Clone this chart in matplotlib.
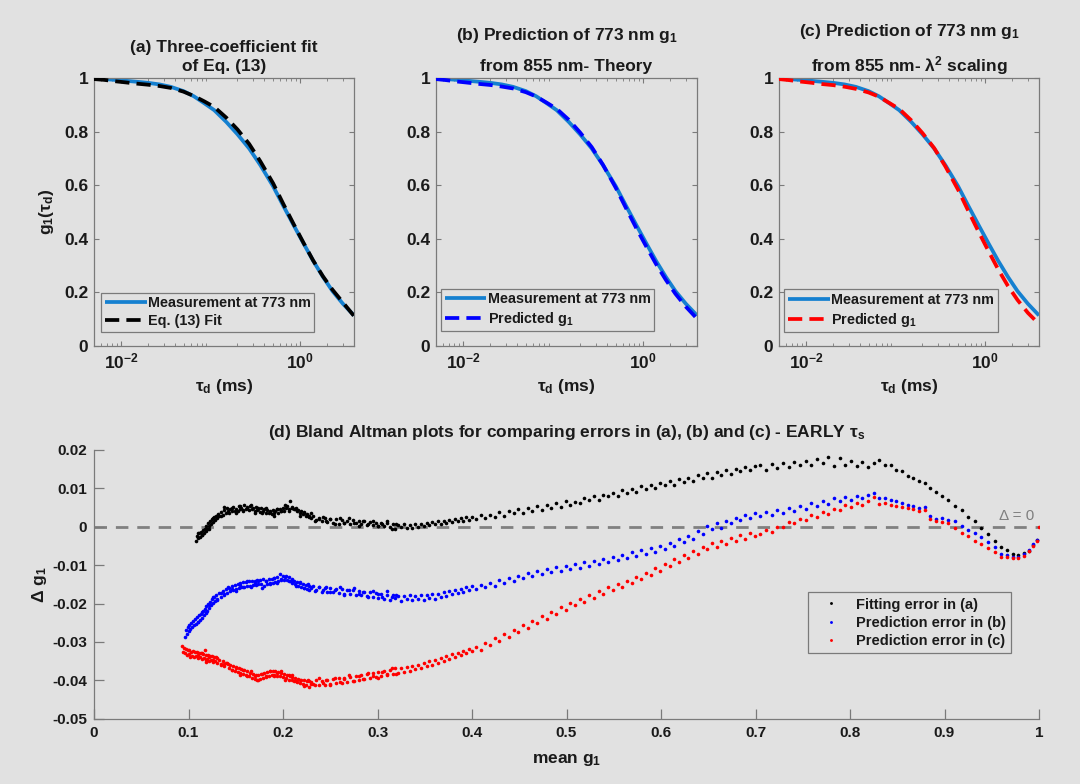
import matplotlib
matplotlib.use("Agg")
import matplotlib.pyplot as plt
import numpy as np
from matplotlib.ticker import FixedLocator, FuncFormatter, LogLocator, NullFormatter

plt.rcParams['font.family'] = ['Liberation Sans', 'DejaVu Sans']
plt.rcParams['font.weight'] = 'bold'
plt.rcParams['mathtext.fontset'] = 'custom'
plt.rcParams['mathtext.bf'] = 'Liberation Sans:bold'
plt.rcParams['mathtext.rm'] = 'Liberation Sans:bold'
plt.rcParams['mathtext.it'] = 'Liberation Sans:bold:italic'
plt.rcParams['mathtext.default'] = 'bf'

# ---------------- top panels: g1 curves ----------------
tau_ms = [0.005, 0.0065, 0.0085, 0.011, 0.015, 0.02, 0.027, 0.036, 0.05, 0.065,
          0.085, 0.11, 0.15, 0.2, 0.27, 0.36, 0.5, 0.65, 0.85, 1.1,
          1.4, 1.8, 2.3, 3.0, 4.0]
g1_meas = [0.998, 0.996, 0.993, 0.990, 0.986, 0.982, 0.976, 0.967, 0.951, 0.932,
           0.906, 0.880, 0.836, 0.790, 0.737, 0.675, 0.596, 0.523, 0.450, 0.381,
           0.318, 0.258, 0.205, 0.158, 0.114]
g1_fit_a = [0.996, 0.993, 0.988, 0.984, 0.979, 0.975, 0.970, 0.963, 0.949, 0.933,
            0.913, 0.892, 0.852, 0.808, 0.754, 0.689, 0.607, 0.530, 0.454, 0.383,
            0.319, 0.260, 0.210, 0.163, 0.112]
g1_pred_b = [0.996, 0.992, 0.987, 0.983, 0.978, 0.974, 0.968, 0.961, 0.947, 0.931,
             0.908, 0.885, 0.844, 0.797, 0.742, 0.676, 0.590, 0.514, 0.438, 0.369,
             0.306, 0.247, 0.195, 0.147, 0.102]
g1_pred_c = [0.996, 0.992, 0.987, 0.983, 0.9775, 0.9735, 0.9675, 0.9595, 0.946, 0.9305,
             0.907, 0.8845, 0.842, 0.7945, 0.7385, 0.6705, 0.583, 0.504, 0.425, 0.352,
             0.286, 0.224, 0.172, 0.124, 0.082]

# ---------------- bottom panel: Bland-Altman ----------------
xs_seg1_black = [0.108, 0.109, 0.110, 0.111, 0.112, 0.113, 0.114, 0.115, 0.116, 0.117,
                 0.118, 0.119, 0.120, 0.121, 0.122, 0.123, 0.124, 0.125, 0.126, 0.127,
                 0.128, 0.129, 0.130, 0.131, 0.132, 0.134, 0.136, 0.138, 0.140]
ys_seg1_black = [-0.0036, -0.0024, -0.0029, -0.0017, -0.0026, -0.0014, -0.0021, -0.0008, -0.0016, -0.0005,
                 -0.0011, 0.0002, -0.0006, 0.0009, 0.0003, 0.0014, 0.0007, 0.0019, 0.0012, 0.0025,
                 0.0017, 0.0029, 0.0022, 0.0034, 0.0027, 0.0039, 0.0031, 0.0044, 0.0036]
xs_seg2 = [0.141, 0.143, 0.144, 0.146, 0.147, 0.149, 0.150, 0.152, 0.153, 0.155,
           0.156, 0.158, 0.159, 0.161, 0.162, 0.164, 0.165, 0.167, 0.168, 0.170,
           0.171, 0.173, 0.174, 0.176, 0.177, 0.179, 0.180, 0.182, 0.183, 0.185,
           0.186, 0.188, 0.189, 0.191, 0.192, 0.194, 0.195, 0.197, 0.198, 0.200,
           0.201, 0.203, 0.204, 0.206, 0.207, 0.209, 0.210, 0.212, 0.213, 0.215,
           0.216, 0.218, 0.219, 0.221, 0.222, 0.224, 0.225, 0.227, 0.228, 0.230]
ys_seg2_black = [0.0048, 0.0037, 0.0045, 0.0040, 0.0051, 0.0042, 0.0047, 0.0040, 0.0053, 0.0045,
                 0.0050, 0.0042, 0.0057, 0.0047, 0.0052, 0.0043, 0.0055, 0.0046, 0.0050, 0.0041,
                 0.0052, 0.0043, 0.0048, 0.0039, 0.0049, 0.0041, 0.0046, 0.0036, 0.0044, 0.0037,
                 0.0042, 0.0033, 0.0043, 0.0036, 0.0040, 0.0046, 0.0037, 0.0045, 0.0041, 0.0050,
                 0.0042, 0.0048, 0.0053, 0.0045, 0.0066, 0.0049, 0.0051, 0.0045, 0.0047, 0.0040,
                 0.0043, 0.0036, 0.0040, 0.0032, 0.0036, 0.0028, 0.0033, 0.0025, 0.0029, 0.0022]
xs_seg3 = [0.232, 0.235, 0.238, 0.241, 0.244, 0.247, 0.250, 0.253, 0.256, 0.259,
           0.262, 0.265, 0.268, 0.271, 0.274, 0.277, 0.280, 0.283, 0.286, 0.289,
           0.292, 0.295, 0.298, 0.301, 0.304, 0.307, 0.310, 0.313, 0.316, 0.319,
           0.322, 0.325, 0.328, 0.331, 0.334, 0.337, 0.340, 0.343, 0.346, 0.349,
           0.352, 0.355, 0.358, 0.361, 0.364, 0.367, 0.370, 0.373, 0.376, 0.379,
           0.382, 0.385, 0.388, 0.391, 0.394, 0.397, 0.400]
ys_seg3_black = [0.0028, 0.0017, 0.0024, 0.0015, 0.0022, 0.0012, 0.0020, 0.0011, 0.0019, 0.0008,
                 0.0018, 0.0010, 0.0016, 0.0007, 0.0017, 0.0009, 0.0015, 0.0006, 0.0014, 0.0005,
                 0.0013, 0.0004, 0.0011, 0.0002, 0.0010, 0.0001, 0.0009, -0.0001, 0.0007, -0.0005,
                 0.0005, 0.0000, 0.0006, -0.0002, 0.0004, -0.0004, 0.0007, -0.0001, 0.0006, 0.0002,
                 0.0010, 0.0004, 0.0012, 0.0006, 0.0014, 0.0008, 0.0016, 0.0010, 0.0018, 0.0012,
                 0.0020, 0.0014, 0.0022, 0.0016, 0.0025, 0.0018, 0.0026]
xs_seg4 = [0.404, 0.409, 0.414, 0.419, 0.424, 0.429, 0.434, 0.439, 0.444, 0.449,
           0.454, 0.459, 0.464, 0.469, 0.474, 0.479, 0.484, 0.489, 0.494, 0.499,
           0.504, 0.509, 0.514, 0.519, 0.524, 0.529, 0.534, 0.539, 0.544, 0.549,
           0.554, 0.559, 0.564, 0.569, 0.574, 0.579, 0.584, 0.589, 0.594, 0.599,
           0.604, 0.609, 0.614, 0.619, 0.624, 0.629, 0.634, 0.639, 0.644, 0.649,
           0.654, 0.659, 0.664, 0.669, 0.674, 0.679, 0.684, 0.689, 0.694, 0.699]
ys_seg4_black = [0.0020, 0.0031, 0.0023, 0.0030, 0.0026, 0.0038, 0.0029, 0.0041, 0.0036, 0.0045,
                 0.0037, 0.0048, 0.0042, 0.0053, 0.0044, 0.0057, 0.0048, 0.0061, 0.0052, 0.0066,
                 0.0058, 0.0064, 0.0061, 0.0074, 0.0069, 0.0080, 0.0071, 0.0084, 0.0079, 0.0089,
                 0.0080, 0.0095, 0.0088, 0.0099, 0.0090, 0.0105, 0.0099, 0.0110, 0.0100, 0.0114,
                 0.0108, 0.0119, 0.0109, 0.0124, 0.0116, 0.0128, 0.0118, 0.0134, 0.0126, 0.0139,
                 0.0127, 0.0143, 0.0135, 0.0148, 0.0137, 0.0151, 0.0144, 0.0156, 0.0147, 0.0159]
xs_seg5 = [0.705, 0.711, 0.717, 0.723, 0.729, 0.735, 0.741, 0.747, 0.753, 0.759,
           0.765, 0.771, 0.777, 0.783, 0.789, 0.795, 0.801, 0.807, 0.813, 0.819,
           0.825, 0.831, 0.837, 0.843, 0.849, 0.855, 0.861, 0.867, 0.873, 0.879,
           0.885, 0.891, 0.897, 0.904, 0.911, 0.918, 0.925, 0.932, 0.939, 0.946,
           0.953, 0.960, 0.966, 0.972, 0.978, 0.984, 0.989, 0.994, 0.998]
ys_seg5_black = [0.0160, 0.0149, 0.0163, 0.0152, 0.0166, 0.0155, 0.0170, 0.0160, 0.0172, 0.0162,
                 0.0176, 0.0165, 0.0182, 0.0158, 0.0179, 0.0162, 0.0172, 0.0158, 0.0168, 0.0157,
                 0.0166, 0.0174, 0.0160, 0.0160, 0.0148, 0.0144, 0.0133, 0.0127, 0.0118, 0.0114,
                 0.0102, 0.0090, 0.0081, 0.0071, 0.0055, 0.0043, 0.0026, 0.0014, -0.0002, -0.0018,
                 -0.0036, -0.0052, -0.0060, -0.0070, -0.0073, -0.0069, -0.0063, -0.0047, -0.0035]
xs_extra = [0.110, 0.114, 0.118, 0.122, 0.126, 0.130, 0.134, 0.138, 0.142, 0.146,
            0.150, 0.154, 0.158, 0.162, 0.166, 0.170, 0.174, 0.178, 0.182, 0.186,
            0.190, 0.194, 0.198, 0.202, 0.206, 0.210, 0.214, 0.218, 0.222, 0.226,
            0.230, 0.234, 0.238, 0.242, 0.246, 0.250, 0.255, 0.260, 0.265, 0.270,
            0.275, 0.280, 0.285, 0.290, 0.295, 0.300, 0.305, 0.310, 0.315, 0.320]
ys_extra_black = [-0.0016, -0.0021, -0.0006, -0.0007, 0.0022, 0.0027, 0.0027, 0.0051, 0.0040, 0.0049,
                  0.0037, 0.0054, 0.0043, 0.0049, 0.0057, 0.0037, 0.0047, 0.0036, 0.0048, 0.0038,
                  0.0029, 0.0046, 0.0040, 0.0057, 0.0041, 0.0048, 0.0050, 0.0027, 0.0038, 0.0028,
                  0.0035, 0.0016, 0.0021, 0.0025, 0.0014, 0.0020, 0.0007, 0.0023, 0.0009, 0.0023,
                  0.0011, 0.0003, 0.0015, 0.0006, 0.0015, 0.0001, 0.0007, 0.0014, -0.0007, 0.0007]

xs_seg1_blue = [0.096, 0.097, 0.098, 0.099, 0.100, 0.101, 0.102, 0.103, 0.104, 0.105,
                0.106, 0.107, 0.108, 0.109, 0.110, 0.111, 0.112, 0.113, 0.114, 0.115,
                0.116, 0.117, 0.118, 0.119, 0.120, 0.121, 0.122, 0.123, 0.124, 0.125,
                0.126, 0.127, 0.128, 0.129, 0.130, 0.132, 0.134, 0.136, 0.138, 0.140]
ys_seg1_blue = [-0.0288, -0.0268, -0.0279, -0.0262, -0.0272, -0.0256, -0.0266, -0.0250, -0.0262, -0.0245,
                -0.0256, -0.0241, -0.0252, -0.0236, -0.0248, -0.0231, -0.0243, -0.0226, -0.0237, -0.0219,
                -0.0231, -0.0213, -0.0225, -0.0207, -0.0219, -0.0201, -0.0212, -0.0196, -0.0205, -0.0189,
                -0.0199, -0.0183, -0.0193, -0.0178, -0.0188, -0.0173, -0.0182, -0.0167, -0.0175, -0.0161]
ys_seg2_blue = [-0.0172, -0.0159, -0.0168, -0.0155, -0.0164, -0.0151, -0.0162, -0.0148, -0.0160, -0.0147,
                -0.0158, -0.0145, -0.0156, -0.0143, -0.0155, -0.0141, -0.0153, -0.0142, -0.0152, -0.0140,
                -0.0151, -0.0139, -0.0150, -0.0138, -0.0149, -0.0137, -0.0153, -0.0140, -0.0150, -0.0137,
                -0.0148, -0.0136, -0.0146, -0.0133, -0.0143, -0.0130, -0.0140, -0.0122, -0.0136, -0.0128,
                -0.0139, -0.0127, -0.0138, -0.0130, -0.0141, -0.0135, -0.0146, -0.0140, -0.0150, -0.0143,
                -0.0153, -0.0147, -0.0157, -0.0150, -0.0160, -0.0152, -0.0162, -0.0155, -0.0164, -0.0157]
ys_seg3_blue = [-0.0155, -0.0166, -0.0158, -0.0169, -0.0160, -0.0171, -0.0159, -0.0170, -0.0161, -0.0172,
                -0.0163, -0.0174, -0.0164, -0.0176, -0.0166, -0.0177, -0.0167, -0.0179, -0.0169, -0.0180,
                -0.0171, -0.0183, -0.0173, -0.0185, -0.0175, -0.0187, -0.0177, -0.0190, -0.0179, -0.0186,
                -0.0181, -0.0193, -0.0180, -0.0189, -0.0178, -0.0192, -0.0181, -0.0188, -0.0177, -0.0190,
                -0.0179, -0.0186, -0.0175, -0.0187, -0.0174, -0.0183, -0.0171, -0.0180, -0.0168, -0.0176,
                -0.0166, -0.0173, -0.0163, -0.0170, -0.0158, -0.0166, -0.0155]
ys_seg4_blue = [-0.0163, -0.0151, -0.0158, -0.0146, -0.0155, -0.0139, -0.0147, -0.0133, -0.0140, -0.0127,
                -0.0134, -0.0121, -0.0128, -0.0115, -0.0124, -0.0110, -0.0119, -0.0106, -0.0115, -0.0103,
                -0.0111, -0.0098, -0.0107, -0.0093, -0.0102, -0.0088, -0.0096, -0.0084, -0.0092, -0.0078,
                -0.0087, -0.0073, -0.0081, -0.0067, -0.0076, -0.0061, -0.0070, -0.0055, -0.0065, -0.0049,
                -0.0058, -0.0042, -0.0051, -0.0033, -0.0040, -0.0024, -0.0031, -0.0010, -0.0020, 0.0002,
                -0.0006, 0.0009, -0.0002, 0.0016, 0.0011, 0.0024, 0.0017, 0.0031, 0.0022, 0.0036]
ys_seg5_blue = [0.0027, 0.0038, 0.0031, 0.0043, 0.0036, 0.0049, 0.0041, 0.0055, 0.0047, 0.0061,
                0.0055, 0.0068, 0.0060, 0.0076, 0.0066, 0.0078, 0.0070, 0.0081, 0.0075, 0.0083,
                0.0089, 0.0074, 0.0075, 0.0070, 0.0066, 0.0061, 0.0057, 0.0054, 0.0049, 0.0051,
                0.0027, 0.0021, 0.0024, 0.0017, 0.0016, 0.0002, -0.0008, -0.0017, -0.0026, -0.0040,
                -0.0053, -0.0070, -0.0074, -0.0078, -0.0078, -0.0072, -0.0060, -0.0046, -0.0035]
ys_extra_blue = [-0.0249, -0.0222, -0.0221, -0.0203, -0.0183, -0.0191, -0.0173, -0.0177, -0.0158, -0.0163,
                 -0.0168, -0.0151, -0.0157, -0.0141, -0.0156, -0.0147, -0.0141, -0.0159, -0.0142, -0.0147,
                 -0.0134, -0.0147, -0.0138, -0.0131, -0.0141, -0.0138, -0.0155, -0.0143, -0.0160, -0.0148,
                 -0.0160, -0.0168, -0.0156, -0.0165, -0.0156, -0.0170, -0.0164, -0.0157, -0.0178, -0.0164,
                 -0.0160, -0.0174, -0.0169, -0.0183, -0.0168, -0.0175, -0.0184, -0.0167, -0.0182, -0.0178]

xs_seg1_red = [0.093, 0.094, 0.095, 0.096, 0.097, 0.098, 0.099, 0.100, 0.101, 0.102,
               0.103, 0.104, 0.105, 0.106, 0.107, 0.108, 0.109, 0.110, 0.111, 0.112,
               0.113, 0.114, 0.115, 0.116, 0.117, 0.118, 0.119, 0.120, 0.121, 0.122,
               0.123, 0.124, 0.125, 0.126, 0.127, 0.128, 0.129, 0.130, 0.132, 0.134,
               0.136, 0.138, 0.140]
ys_seg1_red = [-0.0310, -0.0325, -0.0315, -0.0330, -0.0318, -0.0335, -0.0320, -0.0331, -0.0322, -0.0338,
               -0.0325, -0.0336, -0.0323, -0.0340, -0.0327, -0.0337, -0.0325, -0.0343, -0.0330, -0.0340,
               -0.0328, -0.0345, -0.0331, -0.0342, -0.0322, -0.0347, -0.0334, -0.0344, -0.0333, -0.0350,
               -0.0337, -0.0347, -0.0336, -0.0353, -0.0340, -0.0350, -0.0339, -0.0356, -0.0346, -0.0358,
               -0.0350, -0.0363, -0.0355]
ys_seg2_red = [-0.0356, -0.0368, -0.0360, -0.0372, -0.0362, -0.0375, -0.0366, -0.0378, -0.0368, -0.0381,
               -0.0371, -0.0384, -0.0374, -0.0387, -0.0377, -0.0390, -0.0380, -0.0393, -0.0383, -0.0397,
               -0.0385, -0.0399, -0.0387, -0.0396, -0.0384, -0.0394, -0.0380, -0.0392, -0.0378, -0.0389,
               -0.0376, -0.0387, -0.0375, -0.0386, -0.0377, -0.0388, -0.0378, -0.0390, -0.0381, -0.0392,
               -0.0384, -0.0395, -0.0386, -0.0398, -0.0389, -0.0400, -0.0391, -0.0403, -0.0393, -0.0405,
               -0.0396, -0.0408, -0.0398, -0.0410, -0.0400, -0.0412, -0.0401, -0.0418, -0.0403, -0.0410]
ys_seg3_red = [-0.0410, -0.0400, -0.0413, -0.0401, -0.0411, -0.0398, -0.0409, -0.0396, -0.0408, -0.0394,
               -0.0406, -0.0393, -0.0404, -0.0391, -0.0402, -0.0389, -0.0399, -0.0385, -0.0396, -0.0383,
               -0.0393, -0.0380, -0.0391, -0.0378, -0.0388, -0.0375, -0.0386, -0.0372, -0.0383, -0.0369,
               -0.0381, -0.0369, -0.0378, -0.0366, -0.0375, -0.0363, -0.0371, -0.0359, -0.0367, -0.0355,
               -0.0363, -0.0350, -0.0359, -0.0346, -0.0354, -0.0342, -0.0350, -0.0337, -0.0345, -0.0332,
               -0.0340, -0.0328, -0.0335, -0.0323, -0.0330, -0.0318, -0.0324]
ys_seg4_red = [-0.0314, -0.0320, -0.0302, -0.0308, -0.0291, -0.0297, -0.0280, -0.0286, -0.0268, -0.0274,
               -0.0256, -0.0263, -0.0245, -0.0251, -0.0233, -0.0239, -0.0221, -0.0227, -0.0209, -0.0216,
               -0.0198, -0.0205, -0.0188, -0.0195, -0.0178, -0.0185, -0.0168, -0.0175, -0.0158, -0.0166,
               -0.0149, -0.0156, -0.0140, -0.0147, -0.0130, -0.0137, -0.0120, -0.0126, -0.0108, -0.0115,
               -0.0096, -0.0103, -0.0085, -0.0092, -0.0074, -0.0081, -0.0063, -0.0070, -0.0052, -0.0059,
               -0.0043, -0.0052, -0.0036, -0.0045, -0.0029, -0.0038, -0.0022, -0.0031, -0.0016, -0.0025]
ys_seg5_red = [-0.0019, -0.0008, -0.0013, -0.0001, 0.0000, 0.0012, 0.0009, 0.0021, 0.0017, 0.0031,
               0.0025, 0.0038, 0.0034, 0.0047, 0.0043, 0.0057, 0.0051, 0.0062, 0.0058, 0.0068,
               0.0077, 0.0060, 0.0063, 0.0058, 0.0055, 0.0052, 0.0049, 0.0047, 0.0041, 0.0044,
               0.0021, 0.0016, 0.0012, 0.0010, -0.0004, -0.0015, -0.0024, -0.0036, -0.0044, -0.0055,
               -0.0065, -0.0079, -0.0080, -0.0082, -0.0081, -0.0076, -0.0064, -0.0050, -0.0038]
ys_extra_red = [-0.0333, -0.0330, -0.0351, -0.0338, -0.0348, -0.0341, -0.0361, -0.0358, -0.0357, -0.0372,
                -0.0369, -0.0385, -0.0372, -0.0389, -0.0377, -0.0390, -0.0398, -0.0383, -0.0388, -0.0376,
                -0.0388, -0.0382, -0.0376, -0.0398, -0.0386, -0.0385, -0.0402, -0.0399, -0.0414, -0.0398,
                -0.0405, -0.0412, -0.0393, -0.0406, -0.0399, -0.0411, -0.0394, -0.0405, -0.0397, -0.0387,
                -0.0403, -0.0390, -0.0397, -0.0381, -0.0388, -0.0395, -0.0378, -0.0384, -0.0368, -0.0383]
x_end_red = [1.0]
y_end_red = [0.0]

legend_labels_top = ["Measurement at 773 nm", "Eq. (13) Fit", "Predicted g$_1$"]
legend_labels_ba = ["Fitting error in (a)", "Prediction error in (b)", "Prediction error in (c)"]


def pair(xs, ys):
    n = min(len(xs), len(ys))
    return list(xs[:n]), list(ys[:n])


def join(*segs):
    X, Y = [], []
    for xs, ys in segs:
        a, b = pair(xs, ys)
        X += a
        Y += b
    return np.array(X), np.array(Y)


bx, by = join((xs_seg1_black, ys_seg1_black), (xs_seg2, ys_seg2_black), (xs_seg3, ys_seg3_black),
              (xs_seg4, ys_seg4_black), (xs_seg5, ys_seg5_black), (xs_extra, ys_extra_black))
ux, uy = join((xs_seg1_blue, ys_seg1_blue), (xs_seg2, ys_seg2_blue), (xs_seg3, ys_seg3_blue),
              (xs_seg4, ys_seg4_blue), (xs_seg5, ys_seg5_blue), (xs_extra, ys_extra_blue))
rx, ry = join((xs_seg1_red, ys_seg1_red), (xs_seg2, ys_seg2_red), (xs_seg3, ys_seg3_red),
              (xs_seg4, ys_seg4_red), (xs_seg5, ys_seg5_red), (xs_extra, ys_extra_red),
              (x_end_red, y_end_red))

BG = '#e1e1e1'
SPINE = '#7a7a7a'
MEAS = '#1580d0'
TXT = '#1a1a1a'

W, H = 1080, 784
fig = plt.figure(figsize=(W / 100, H / 100), dpi=100, facecolor=BG)


def rect(x0, x1, y0, y1):
    return [x0 / W, 1 - y1 / H, (x1 - x0) / W, (y1 - y0) / H]


def fmt_num(v, pos=None):
    v = round(v, 4)
    if abs(v) < 1e-12:
        return "0"
    return f"{v:g}"


top_specs = [
    ((94, 354), "(a) Three-coefficient fit\nof Eq. (13)", g1_fit_a, 'black', legend_labels_top[1], (0.027, 0.199), 1.35),
    ((436, 697), "(b) Prediction of 773 nm g$_1$\nfrom 855 nm- Theory", g1_pred_b, '#0000ff', legend_labels_top[2], (0.019, 0.214), 2.15),
    ((779, 1039), "(c) Prediction of 773 nm g$_1$\nfrom 855 nm- λ$^2$ scaling", g1_pred_c, '#ff0000', legend_labels_top[2], (0.020, 0.211), 1.75),
]

for i, ((x0, x1), title, pred, col, plab, lpos, lsp) in enumerate(top_specs):
    ax = fig.add_axes(rect(x0, x1, 78, 346))
    ax.set_facecolor(BG)
    ax.plot(tau_ms, g1_meas, color=MEAS, lw=2.7, solid_capstyle='butt',
            label=legend_labels_top[0], zorder=2)
    ax.plot(tau_ms, pred, color=col, lw=2.7, dashes=(3.8, 1.9), dash_capstyle='butt',
            label=plab, zorder=3)
    ax.set_xscale('log')
    ax.set_xlim(0.005, 4)
    ax.set_ylim(0, 1)
    ax.xaxis.set_major_locator(FixedLocator([0.01, 1]))
    ax.xaxis.set_major_formatter(FuncFormatter(lambda v, p: "10$^{-2}$" if v < 0.1 else "10$^{0}$"))
    ax.xaxis.set_minor_locator(LogLocator(base=10, subs=np.arange(2, 10)))
    ax.xaxis.set_minor_formatter(NullFormatter())
    ax.set_yticks([0, 0.2, 0.4, 0.6, 0.8, 1.0])
    ax.yaxis.set_major_formatter(FuncFormatter(fmt_num))
    ax.tick_params(which='both', direction='in', top=True, right=True, colors=SPINE,
                   labelcolor=TXT, labelsize=12.5)
    ax.tick_params(which='major', length=3.5, width=0.8, pad=4)
    ax.tick_params(which='minor', length=2.0, width=0.6)
    for sp in ax.spines.values():
        sp.set_color(SPINE)
        sp.set_linewidth(0.9)
    for lab in ax.get_xticklabels() + ax.get_yticklabels():
        lab.set_fontweight('bold')
    ax.set_title(title, fontsize=12.5, fontweight='bold', pad=5, linespacing=lsp, color=TXT)
    ax.set_xlabel("τ$_d$ (ms)", fontsize=12.5, fontweight='bold', labelpad=4, color=TXT)
    if i == 0:
        ax.set_ylabel("g$_1$(τ$_d$)", fontsize=12.5, fontweight='bold', labelpad=6, color=TXT)
    leg = ax.legend(loc='upper left', bbox_to_anchor=lpos, fontsize=10.4, frameon=True,
                    fancybox=False, edgecolor=SPINE, facecolor=BG, framealpha=1,
                    handlelength=2.9, handletextpad=0.1, borderpad=0.25, labelspacing=0.25,
                    borderaxespad=0)
    leg.get_frame().set_linewidth(0.9)
    for t in leg.get_texts():
        t.set_color(TXT)

# ---------------- bottom panel ----------------
axd = fig.add_axes(rect(94, 1039, 450, 718.7))
axd.set_facecolor(BG)
axd.axhline(0, color='#808080', lw=2.0, dashes=(4.5, 3.2), zorder=1)
ms = 2.6
axd.plot(bx, by, linestyle='none', marker='o', ms=ms, mew=0, color='black',
         label=legend_labels_ba[0], zorder=3)
axd.plot(ux, uy, linestyle='none', marker='o', ms=ms, mew=0, color='#0000ff',
         label=legend_labels_ba[1], zorder=3)
axd.plot(rx, ry, linestyle='none', marker='o', ms=ms, mew=0, color='#ff0000',
         label=legend_labels_ba[2], zorder=3)
axd.set_xlim(0, 1)
axd.set_ylim(-0.05, 0.02)
axd.set_xticks(np.round(np.arange(0, 1.01, 0.1), 1))
axd.set_yticks(np.round(np.arange(-0.05, 0.0201, 0.01), 2))
axd.xaxis.set_major_formatter(FuncFormatter(fmt_num))
axd.yaxis.set_major_formatter(FuncFormatter(fmt_num))
axd.tick_params(which='both', direction='in', colors=SPINE, labelcolor=TXT,
                labelsize=11, length=7, width=0.9, pad=5)
for lab in axd.get_xticklabels() + axd.get_yticklabels():
    lab.set_fontweight('bold')
axd.spines['top'].set_visible(False)
axd.spines['right'].set_visible(False)
for s in ('left', 'bottom'):
    axd.spines[s].set_color(SPINE)
    axd.spines[s].set_linewidth(0.9)
axd.text(0.976, 0.0028, "Δ = 0", color='#7f7f7f', fontsize=11, fontweight='normal',
         ha='center', va='center')
axd.set_title("(d) Bland Altman plots for comparing errors in (a), (b) and (c) - EARLY τ$_s$",
              fontsize=12.5, fontweight='bold', pad=9, color=TXT)
axd.set_xlabel("mean g$_1$", fontsize=12.5, fontweight='bold', labelpad=9, color=TXT)
axd.set_ylabel("Δ g$_1$", fontsize=12.5, fontweight='bold', labelpad=2, color=TXT)
legd = axd.legend(loc='upper left', bbox_to_anchor=(0.756, 0.47), fontsize=10.5, frameon=True,
                  fancybox=False, edgecolor=SPINE, facecolor=BG, framealpha=1,
                  handlelength=2.4, handletextpad=0.5, borderpad=0.35, labelspacing=0.3,
                  borderaxespad=0, markerscale=0.8)
legd.get_frame().set_linewidth(0.9)
for t in legd.get_texts():
    t.set_color(TXT)

fig.savefig("out.png", dpi=100, facecolor=BG)
